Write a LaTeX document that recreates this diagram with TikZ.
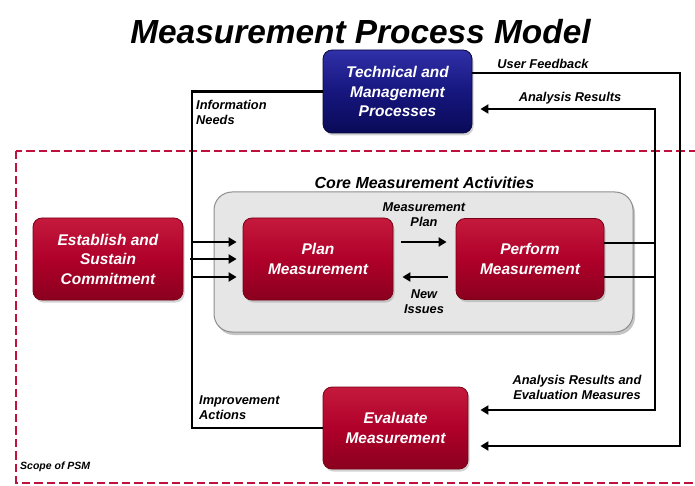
\documentclass[tikz,border=0pt]{standalone}
\usepackage{fontspec}
\setmainfont{Liberation Sans}
\usetikzlibrary{arrows.meta,shadows}
\definecolor{psmred}{HTML}{B0002A}
\definecolor{redtop}{HTML}{C41A3C}
\definecolor{redbot}{HTML}{8A001E}
\definecolor{redborder}{HTML}{7A0018}
\definecolor{psmblue}{HTML}{16167E}
\definecolor{bluetop}{HTML}{3030A8}
\definecolor{bluebot}{HTML}{0A0A58}
\definecolor{blueborder}{HTML}{08083F}
\definecolor{corefill}{HTML}{E6E6E6}
\definecolor{coreborder}{HTML}{8E8E8E}
\definecolor{dashred}{HTML}{C0103C}
\tikzset{
  box/.style={rounded corners=9pt, text=white, align=center, inner sep=0pt,
    font=\bfseries\itshape\fontsize{15.5}{19.5}\selectfont,
    drop shadow={opacity=0.35, shadow xshift=1.5pt, shadow yshift=-2.5pt}},
  redbox/.style={box, top color=redtop, bottom color=redbot, middle color=psmred,
    draw=redborder, line width=0.8pt},
  bluebox/.style={box, top color=bluetop, bottom color=bluebot, middle color=psmblue,
    draw=blueborder, line width=0.8pt},
  corebox/.style={rounded corners=18pt, fill=corefill, draw=coreborder, line width=1pt,
    minimum width=419pt, minimum height=140pt, inner sep=0pt,
    drop shadow={opacity=0.45, shadow xshift=2pt, shadow yshift=-3pt}},
  conn/.style={line width=2.8pt, black},
  arr/.style={conn, -{Triangle[length=8pt,width=9pt]}},
  lbl/.style={font=\bfseries\itshape\fontsize{12.8}{15}\selectfont, align=center, inner sep=0pt},
  titlestyle/.style={font=\bfseries\itshape\fontsize{33.4}{38}\selectfont, inner sep=0pt},
  psmscope/.style={draw=dashred, line width=2.6pt, dash pattern=on 8.5pt off 4pt}
}
\begin{document}
\begin{tikzpicture}[x=1pt,y=-1pt]
\useasboundingbox (0,0) rectangle (695,486);
\clip (0,0) rectangle (695,486);
\fill[white] (0,0) rectangle (695,486);
\node[titlestyle, anchor=base] (title) at (360.5,44) {Measurement Process Model};
\draw[psmscope] (16,151) rectangle (712,483);
\node[corebox] (core) at (423.5,262) {};
\node[lbl, font=\bfseries\itshape\fontsize{16}{18}\selectfont] (coretitle) at (424.5,183) {Core Measurement Activities};
% boxes
\node[bluebox, minimum width=149pt, minimum height=83pt] (tech) at (397.5,91.5) {Technical and\\Management\\Processes};
\node[redbox, minimum width=150pt, minimum height=82pt] (estab) at (108,259) {Establish and\\Sustain\\Commitment};
\node[redbox, minimum width=150pt, minimum height=82pt] (plan) at (318,259) {Plan\\Measurement};
\node[redbox, minimum width=148pt, minimum height=81pt] (perform) at (530,259) {Perform\\Measurement};
\node[redbox, minimum width=145pt, minimum height=82pt] (eval) at (395.5,428) {Evaluate\\Measurement};
% routing coordinates
\coordinate (lx) at (192,260);
\coordinate (rx1) at (655,260);
\coordinate (rx2) at (680,260);
% connectors
\draw[arr, shorten >=6pt] (tech.west) -| (lx) |- ([yshift=17pt]plan.west);
\draw[arr, shorten >=6pt] ([xshift=7pt]estab.east) -- (plan.west);
\draw[arr, shorten >=6pt] (eval.west) -| (lx) |- ([yshift=-18pt]plan.west);
\draw[arr] ([xshift=8pt,yshift=17pt]plan.east) -- ([xshift=-9pt,yshift=17pt]perform.west);
\draw[arr] ([xshift=-8pt,yshift=-18pt]perform.west) -- ([xshift=9pt,yshift=-18pt]plan.east);
\draw[arr, shorten >=8pt] ([yshift=16pt]perform.east) -| (rx1) |- ([yshift=-17.5pt]tech.east);
\draw[arr, shorten >=12pt] ([yshift=18.5pt]tech.east) -| (rx2) |- ([yshift=-18pt]eval.east);
\draw[arr, shorten >=12pt] ([yshift=-18pt]perform.east) -| (rx1) |- ([yshift=18pt]eval.east);
% labels
\node[lbl, align=left, anchor=north west] (infoneeds) at (196,100) {Information\\Needs};
\node[lbl, align=left, anchor=north west] (impr) at (199,395) {Improvement\\Actions};
\node[lbl] (userfb) at (543,64) {User Feedback};
\node[lbl] (anres) at (570,98) {Analysis Results};
\node[lbl] (mplan) at (424,215) {Measurement\\Plan};
\node[lbl] (newiss) at (424,302) {New\\Issues};
\node[lbl] (anreseval) at (577,387) {Analysis Results and\\Evaluation Measures};
\node[lbl, font=\bfseries\itshape\fontsize{10.5}{12}\selectfont, anchor=west] (scopelbl) at (20,467) {Scope of PSM};
\end{tikzpicture}
\end{document}
